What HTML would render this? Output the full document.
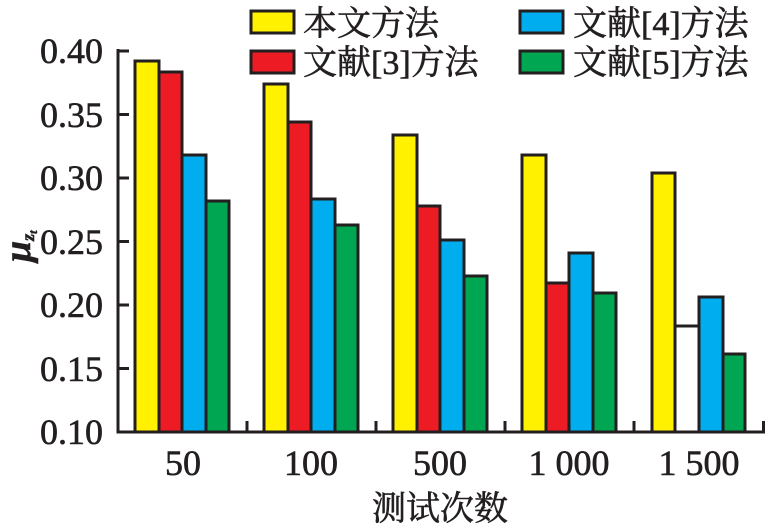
<!DOCTYPE html>
<html><head><meta charset="utf-8"><style>
body{margin:0;background:#fff;}
svg text{font-family:"Liberation Serif","Noto Serif CJK SC",serif;fill:#231f20;stroke:#231f20;stroke-width:0.6;}
</style></head><body>
<svg width="767" height="525" xmlns="http://www.w3.org/2000/svg">
<g stroke="#231f20" stroke-width="3">
<rect x="135" y="61" width="24" height="371" fill="#fff100"/>
<rect x="159" y="72" width="23" height="360" fill="#ed1c24"/>
<rect x="182" y="155" width="24" height="277" fill="#00aeef"/>
<rect x="206" y="201" width="23" height="231" fill="#00a651"/>
<rect x="264" y="84" width="24" height="348" fill="#fff100"/>
<rect x="288" y="122" width="23" height="310" fill="#ed1c24"/>
<rect x="311" y="199" width="24" height="233" fill="#00aeef"/>
<rect x="335" y="225" width="23" height="207" fill="#00a651"/>
<rect x="393" y="135" width="24" height="297" fill="#fff100"/>
<rect x="417" y="206" width="23" height="226" fill="#ed1c24"/>
<rect x="440" y="240" width="24" height="192" fill="#00aeef"/>
<rect x="464" y="276" width="23" height="156" fill="#00a651"/>
<rect x="522" y="155" width="24" height="277" fill="#fff100"/>
<rect x="546" y="283" width="23" height="149" fill="#ed1c24"/>
<rect x="569" y="253" width="24" height="179" fill="#00aeef"/>
<rect x="593" y="293" width="23" height="139" fill="#00a651"/>
<rect x="652" y="173" width="23" height="259" fill="#fff100"/>
<line x1="675" y1="326" x2="699" y2="326"/>
<rect x="699" y="297" width="24" height="135" fill="#00aeef"/>
<rect x="723" y="354" width="22" height="78" fill="#00a651"/>
<line x1="118" y1="49" x2="118" y2="433.5"/>
<line x1="116.5" y1="432" x2="765" y2="432"/>
<path d="M118 51H129M118 114.5H129M118 178H129M118 241.5H129M118 305H129M118 368.5H129" fill="none"/>
<path d="M247 432V421M376 432V421M505 432V421M634 432V421M763.5 432V421" fill="none"/>
<rect x="251" y="11" width="43" height="22" fill="#fff100"/>
<rect x="251" y="51" width="43" height="22" fill="#ed1c24"/>
<rect x="520" y="11" width="43" height="22" fill="#00aeef"/>
<rect x="520" y="51" width="43" height="22" fill="#00a651"/>
</g>
<g font-size="36" text-anchor="end">
<text x="103" y="63">0.40</text>
<text x="103" y="127">0.35</text>
<text x="103" y="190">0.30</text>
<text x="103" y="254">0.25</text>
<text x="103" y="317">0.20</text>
<text x="103" y="381">0.15</text>
<text x="103" y="444">0.10</text>
</g>
<g font-size="36" text-anchor="middle">
<text x="183" y="475">50</text>
<text x="311" y="475">100</text>
<text x="440" y="475">500</text>
<text x="569" y="475">1 000</text>
<text x="699" y="475">1 500</text>
<text x="440" y="520" font-size="34">测试次数</text>
</g>
<g font-size="34">
<text x="303" y="35">本文方法</text>
<text x="303" y="74">文献[3]方法</text>
<text x="573" y="35">文献[4]方法</text>
<text x="573" y="74">文献[5]方法</text>
</g>
<text x="0" y="0" font-size="38" font-style="italic" font-weight="bold" transform="translate(30,262) rotate(-90)">μ<tspan font-size="18" dy="4">z</tspan><tspan font-size="12" dy="3">t</tspan></text>
</svg>
</body></html>
